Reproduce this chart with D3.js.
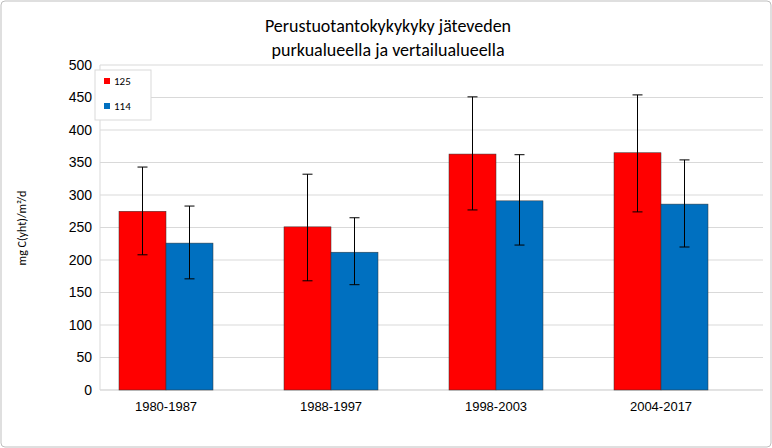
<!DOCTYPE html><html><head><meta charset="utf-8"><script src="https://cdn.jsdelivr.net/npm/d3@7"></script>
<style>body{margin:0;background:#fff}svg{font-family:Calibri,Carlito,"Liberation Sans",Arial,sans-serif}</style></head><body>
<script>
const categories=["1980-1987","1988-1997","1998-2003","2004-2017"];
const seriesNames=["125","114"];
const values125=[275,251,363,365];
const errHi125=[343,332,451,454];
const errLo125=[208,168,277,274];
const values114=[226,212,291,286];
const errHi114=[283,265,362,354];
const errLo114=[171,162,223,220];
const yTicks=[0,50,100,150,200,250,300,350,400,450,500];
const colors=["#ff0000","#0070c0"];
const W=772,H=448,m={l:100,r:9,t:65,b:58};
const svg=d3.select("body").append("svg").attr("width",W).attr("height",H);
svg.append("rect").attr("x",1).attr("y",1).attr("width",W-2).attr("height",H-2).attr("rx",4).attr("fill","#fff").attr("stroke","#bfbfbf");
const x=d3.scaleBand().domain(categories).range([83.5,743.5]);
const y=d3.scaleLinear().domain([0,500]).range([H-m.b,m.t]);
svg.append("g").selectAll("line").data(yTicks).join("line").attr("x1",m.l).attr("x2",W-m.r).attr("y1",d=>y(d)).attr("y2",d=>y(d)).attr("stroke","#d9d9d9");
svg.append("line").attr("x1",m.l).attr("x2",m.l).attr("y1",m.t).attr("y2",H-m.b).attr("stroke","#d9d9d9");
const ya=svg.append("g").attr("transform",`translate(${m.l},0)`).call(d3.axisLeft(y).tickValues(yTicks).tickSize(0).tickPadding(8));
ya.select(".domain").remove();ya.selectAll("text").attr("font-size",14).attr("fill","#000");
const xa=svg.append("g").attr("transform",`translate(0,${H-m.b})`).call(d3.axisBottom(x).tickSize(0).tickPadding(12));
xa.select(".domain").remove();xa.selectAll("text").attr("font-size",13).attr("fill","#000");
svg.append("line").attr("x1",m.l).attr("x2",W-m.r).attr("y1",H-m.b).attr("y2",H-m.b).attr("stroke","#d9d9d9");
const bw=47;
const series=[[values125,errHi125,errLo125],[values114,errHi114,errLo114]];
series.forEach(([v,hi,lo],s)=>{
  const g=svg.append("g");
  g.selectAll("rect").data(categories).join("rect")
   .attr("x",d=>x(d)+x.bandwidth()/2+(s-1)*bw).attr("width",bw)
   .attr("y",(d,i)=>y(v[i])).attr("height",(d,i)=>y(0)-y(v[i])).attr("fill",colors[s]).attr("stroke","#333").attr("stroke-width",0.5);
  categories.forEach((c,i)=>{
    const cx=x(c)+x.bandwidth()/2+(s-0.5)*bw;
    g.append("line").attr("x1",cx).attr("x2",cx).attr("y1",y(hi[i])).attr("y2",y(lo[i])).attr("stroke","#000");
    [hi[i],lo[i]].forEach(e=>g.append("line").attr("x1",cx-5).attr("x2",cx+5).attr("y1",y(e)).attr("y2",y(e)).attr("stroke","#000"));
  });
});
const lg=svg.append("g");
lg.append("rect").attr("x",95).attr("y",70).attr("width",56).attr("height",50).attr("fill","#fff").attr("stroke","#d9d9d9");
seriesNames.forEach((n,i)=>{
  lg.append("rect").attr("x",104).attr("y",78+i*25).attr("width",6).attr("height",6).attr("fill",colors[i]);
  lg.append("text").attr("x",114).attr("y",85+i*25).attr("font-size",11).text(n);
});
svg.append("text").attr("x",388).attr("y",32).attr("text-anchor","middle").attr("font-size",18).text("Perustuotantokykykyky jäteveden");
svg.append("text").attr("x",388).attr("y",56).attr("text-anchor","middle").attr("font-size",18).text("purkualueella ja vertailualueella");
svg.append("text").attr("transform","translate(26,228) rotate(-90)").attr("text-anchor","middle").attr("font-size",12).text("mg C(yht)/m²/d");
</script></body></html>
